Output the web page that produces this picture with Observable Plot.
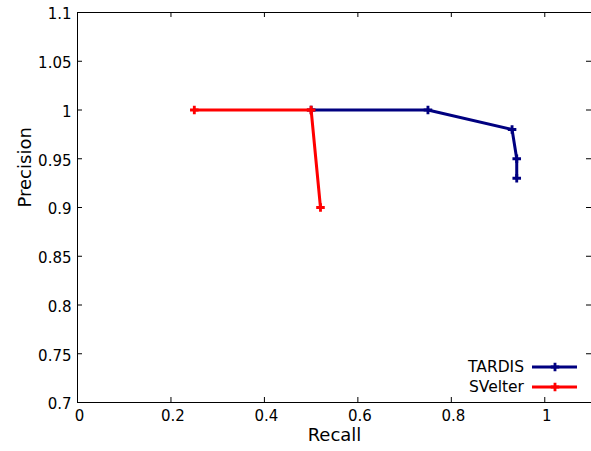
<!DOCTYPE html>
<html>
<head>
<meta charset="utf-8">
<script src="https://cdn.jsdelivr.net/npm/d3@7"></script>
<script src="https://cdn.jsdelivr.net/npm/@observablehq/plot@0.6"></script>
<style>
  body { margin: 0; background: #fff; }
  #chart svg { display: block; font-family: "DejaVu Sans", sans-serif; }
</style>
</head>
<body>
<div id="chart"></div>
<script>
const seriesNames = ["TARDIS", "SVelter"];
const seriesColors = ["#000080", "#ff0000"];
const tardisRecall = [0.5, 0.75, 0.93, 0.94, 0.94];
const tardisPrecision = [1.0, 1.0, 0.98, 0.95, 0.93];
const svelterRecall = [0.25, 0.5, 0.52];
const svelterPrecision = [1.0, 1.0, 0.9];
const xTicks = [0, 0.2, 0.4, 0.6, 0.8, 1];
const yTicks = [0.7, 0.75, 0.8, 0.85, 0.9, 0.95, 1, 1.05, 1.1];

const tardis = tardisRecall.map((r, i) => ({series: "TARDIS", recall: r, precision: tardisPrecision[i]}));
const svelter = svelterRecall.map((r, i) => ({series: "SVelter", recall: r, precision: svelterPrecision[i]}));
const colorScale = {domain: seriesNames, range: seriesColors};

const W = 591, H = 451, mL = 77, mR = 0, mT = 12, mB = 49;
const innerW = W - mL - mR, innerH = H - mT - mB, tick = 5;

const fmt = d => String(+d.toFixed(2));

const chart = Plot.plot({
  width: W,
  height: H,
  marginLeft: mL,
  marginRight: mR,
  marginTop: mT,
  marginBottom: mB,
  style: {fontFamily: "DejaVu Sans, sans-serif", fontSize: "15px", color: "#000", background: "#fff"},
  x: {domain: [0, 1.1]},
  y: {domain: [0.7, 1.1]},
  color: colorScale,
  marks: [
    Plot.axisX(xTicks, {anchor: "bottom", tickSize: 0, tickPadding: 8, tickFormat: fmt, label: null, fontSize: 15, dx: 2}),
    Plot.axisY(yTicks, {anchor: "left", tickSize: 0, tickPadding: 6, tickFormat: fmt, label: null, fontSize: 15, dy: 2}),
    Plot.tickX(xTicks, {x: d => d, insetTop: innerH - tick, stroke: "#000"}),
    Plot.tickX(xTicks, {x: d => d, insetBottom: innerH - tick, stroke: "#000"}),
    Plot.tickY(yTicks, {y: d => d, insetRight: innerW - tick, stroke: "#000"}),
    Plot.tickY(yTicks, {y: d => d, insetLeft: innerW - tick, stroke: "#000"}),
    Plot.line(tardis, {x: "recall", y: "precision", stroke: "series", strokeWidth: 3}),
    Plot.dot(tardis, {x: "recall", y: "precision", fill: "series", symbol: "cross", r: 3.6}),
    Plot.line(svelter, {x: "recall", y: "precision", stroke: "series", strokeWidth: 3}),
    Plot.dot(svelter, {x: "recall", y: "precision", fill: "series", symbol: "cross", r: 3.6}),
    Plot.frame({stroke: "#000", strokeWidth: 1}),
    Plot.text(["Recall"], {frameAnchor: "bottom", dy: 38, fontSize: 18}),
    Plot.text(["Precision"], {frameAnchor: "left", dx: -52, rotate: -90, fontSize: 18})
  ]
});

document.getElementById("chart").appendChild(chart);

// Legend inside the plot, lower right
const svg = d3.select(chart);
const leg = svg.append("g").attr("font-size", 15.5).attr("font-family", "DejaVu Sans, sans-serif");
seriesNames.forEach((name, i) => {
  const y = 367 + i * 20;
  leg.append("text").attr("x", 524).attr("y", y).attr("dy", "0.35em")
    .attr("text-anchor", "end").attr("fill", "#000").text(name);
  leg.append("line").attr("x1", 532).attr("x2", 577).attr("y1", y).attr("y2", y)
    .attr("stroke", seriesColors[i]).attr("stroke-width", 3);
  leg.append("path").attr("transform", `translate(555,${y})`)
    .attr("d", d3.symbol(d3.symbolCross, 40)()).attr("fill", seriesColors[i]);
});
</script>
</body>
</html>
